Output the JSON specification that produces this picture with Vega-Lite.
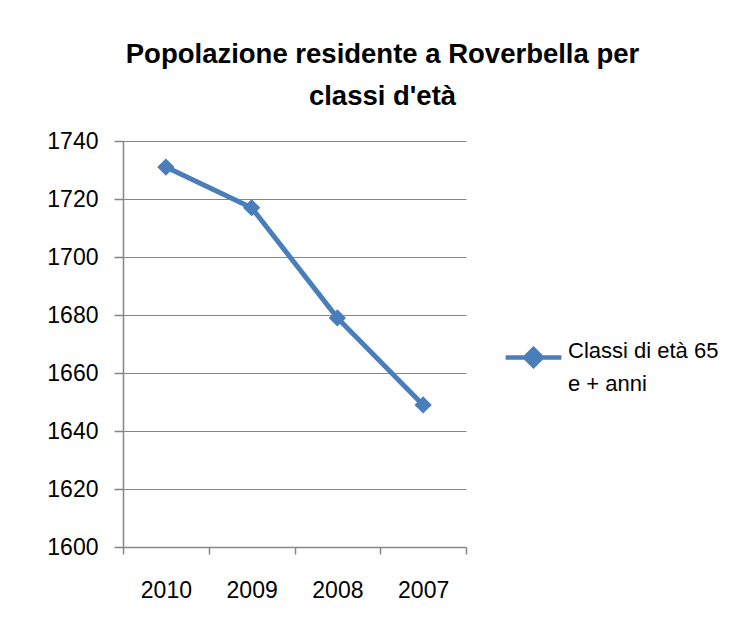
{
  "$schema": "https://vega.github.io/schema/vega-lite/v6.json",
  "width": 343,
  "height": 406,
  "autosize": {"type": "none"},
  "padding": {"left": 123, "top": 141, "right": 264, "bottom": 80},
  "background": "white",
  "title": {
    "text": ["Popolazione residente a Roverbella per", "classi d'età"],
    "font": "Liberation Sans",
    "fontSize": 27.5,
    "fontWeight": "bold",
    "color": "#000000",
    "anchor": "middle",
    "dx": 88,
    "offset": 20,
    "lineHeight": 42
  },
  "data": {
    "values": [
      {"anno": "2010", "valore": 1731, "serie": "Classi di età 65 e + anni"},
      {"anno": "2009", "valore": 1717, "serie": "Classi di età 65 e + anni"},
      {"anno": "2008", "valore": 1679, "serie": "Classi di età 65 e + anni"},
      {"anno": "2007", "valore": 1649, "serie": "Classi di età 65 e + anni"}
    ]
  },
  "mark": {
    "type": "line",
    "strokeWidth": 5,
    "point": {"shape": "diamond", "size": 300, "filled": true, "opacity": 1}
  },
  "encoding": {
    "x": {
      "field": "anno",
      "type": "ordinal",
      "sort": ["2010", "2009", "2008", "2007"],
      "scale": {"paddingInner": 0, "paddingOuter": 0},
      "axis": {
        "title": null,
        "labelAngle": 0,
        "labelFont": "Liberation Sans",
        "labelFontSize": 23,
        "labelColor": "#000000",
        "labelPadding": 25,
        "domainColor": "#868686",
        "domainWidth": 1.5,
        "tickColor": "#868686",
        "tickWidth": 1.5,
        "tickSize": 7,
        "tickBand": "extent",
        "grid": false
      }
    },
    "y": {
      "field": "valore",
      "type": "quantitative",
      "scale": {"domain": [1600, 1740], "nice": false, "zero": false},
      "axis": {
        "title": null,
        "format": "d",
        "values": [1600, 1620, 1640, 1660, 1680, 1700, 1720, 1740],
        "labelFont": "Liberation Sans",
        "labelFontSize": 23,
        "labelColor": "#000000",
        "labelPadding": 16,
        "domainColor": "#868686",
        "domainWidth": 1.5,
        "tickColor": "#868686",
        "tickWidth": 1.5,
        "tickSize": 9,
        "grid": true,
        "gridColor": "#868686",
        "gridWidth": 1.2,
        "gridOpacity": 1
      }
    },
    "color": {
      "field": "serie",
      "type": "nominal",
      "scale": {"range": ["#4a7ebb"]},
      "legend": {
        "title": null,
        "orient": "none",
        "legendX": 380,
        "legendY": 186,
        "symbolType": "M-1,0H1M0,-0.3L0.3,0L0,0.3L-0.3,0Z",
        "symbolSize": 3100,
        "symbolStrokeWidth": 4.5,
        "symbolFillColor": "#4a7ebb",
        "symbolStrokeColor": "#4a7ebb",
        "labelFont": "Liberation Sans",
        "labelFontSize": 22,
        "labelColor": "#000000",
        "labelLimit": 300,
        "labelExpr": "['Classi di età 65', 'e + anni']",
        "labelBaseline": "alphabetic",
        "labelOffset": 4
      }
    }
  },
  "config": {
    "view": {"stroke": null},
    "style": {"guide-label": {"lineHeight": 33}}
  }
}
